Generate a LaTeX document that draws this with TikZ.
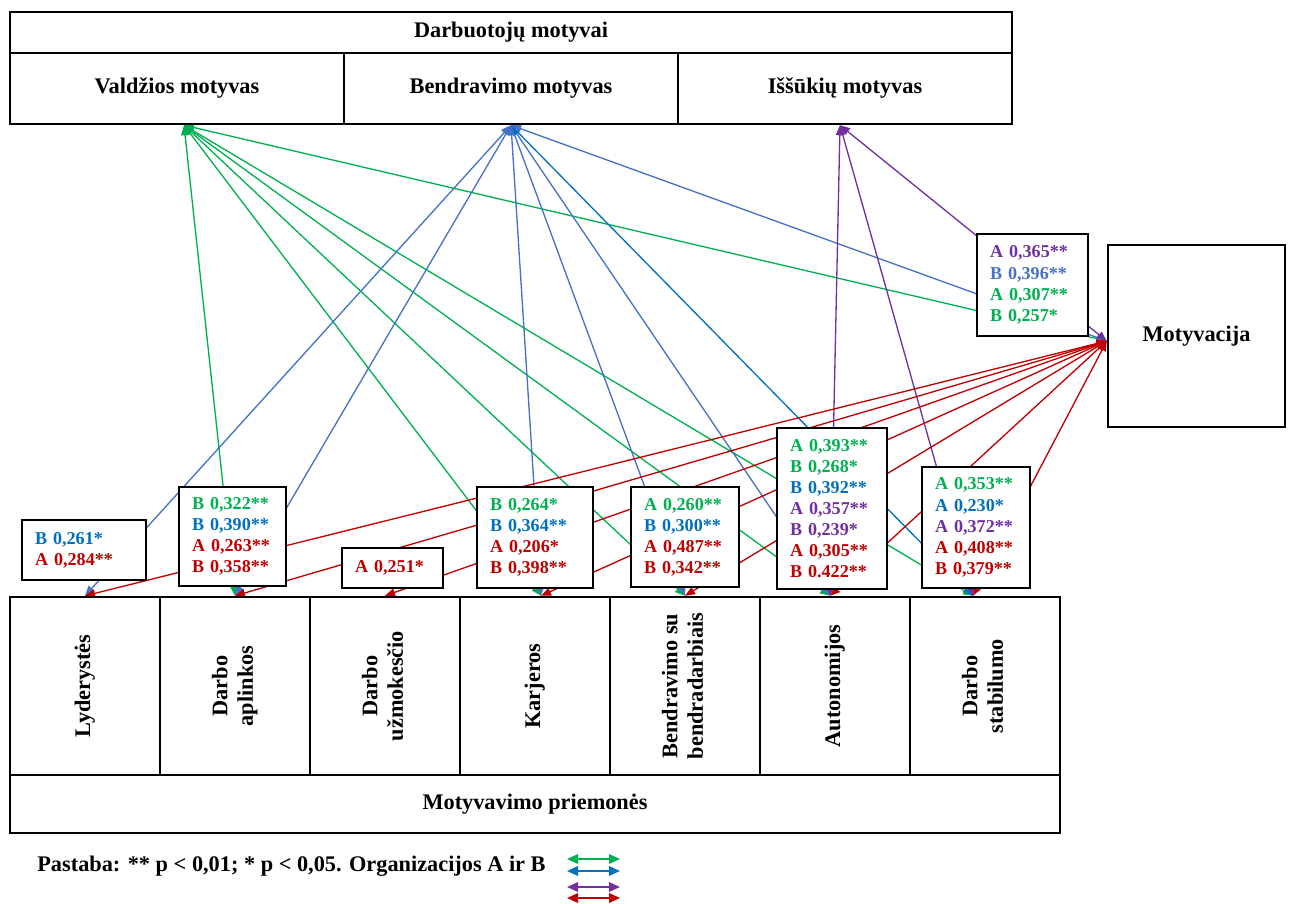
\documentclass[tikz,border=0pt]{standalone}
\usepackage{fontspec}
\setmainfont{Liberation Serif}
\usetikzlibrary{arrows.meta}
\pgfdeclarelayer{bg}
\pgfsetlayers{bg,main}
\definecolor{vgreen}{HTML}{00B050}
\definecolor{vblue}{HTML}{4472C4}
\definecolor{tblue}{HTML}{0070C0}
\definecolor{vpurple}{HTML}{7030A0}
\definecolor{vred}{HTML}{C00000}
\newcommand{\vtext}[1]{\rotatebox{90}{\begin{tabular}{@{}c@{}}#1\end{tabular}}}
\tikzset{
  bar/.style={draw, line width=1.4pt, fill=white, font=\bfseries\fontsize{12.7}{14.6}\selectfont},
  cell/.style={bar, minimum width=3cm, minimum height=3.56cm},
  lab/.style={draw, line width=1pt, fill=white, align=left, inner xsep=0.26cm, inner ysep=0pt,
    font=\bfseries\fontsize{10.3}{12}\selectfont},
  link/.style={line width=0.75pt, {Triangle[length=2mm,width=1.6mm]}-{Triangle[length=2mm,width=1.6mm]}},
  legarrow/.style={line width=1pt, {Triangle[length=2.2mm,width=1.9mm]}-{Triangle[length=2.2mm,width=1.9mm]}},
}

\begin{document}
\begin{tikzpicture}[x=0.02cm, y=-0.02cm]
        \useasboundingbox (0,0) rectangle (1291,903);
        % motyvai
        \node (darb) [bar, minimum width=20.04cm, minimum height=0.82cm] at (511, 32.5) {Darbuotojų motyvai};
        \node (valdz) [bar, minimum width=6.68cm, minimum height=1.42cm] at (177, 88.5) {Valdžios motyvas};
        \node (bendr) [bar, minimum width=6.68cm, minimum height=1.42cm] at (511, 88.5) {Bendravimo motyvas};
        \node (issuk) [bar, minimum width=6.68cm, minimum height=1.42cm] at (845, 88.5) {Iššūkių motyvas};
        \node (mot) [bar, minimum width=3.54cm, minimum height=3.64cm] at (1196.5, 336) {Motyvacija};
        % priemones
        \node (lyd) [cell] at (85, 686) {\vtext{Lyderystės}};
        \node (apl) [cell] at (235, 686) {\vtext{Darbo\\aplinkos}};
        \node (uzm) [cell] at (385, 686) {\vtext{Darbo\\užmokesčio}};
        \node (kar) [cell] at (535, 686) {\vtext{Karjeros}};
        \node (ben) [cell] at (685, 686) {\vtext{Bendravimo su\\bendradarbiais}};
        \node (aut) [cell] at (835, 686) {\vtext{Autonomijos}};
        \node (sta) [cell] at (985, 686) {\vtext{Darbo\\stabilumo}};
        \node (priem) [bar, minimum width=21cm, minimum height=1.16cm] at (535, 804) {Motyvavimo priemonės};
        % koreliacijos
        \node (labLyd) [lab, text width=1.96cm, minimum height=1.2cm] at (84, 550)
                {\textcolor{tblue}{B 0,261*}\\\textcolor{vred}{A 0,284**}};
        \node (labApl) [lab, text width=1.62cm, minimum height=1.98cm] at (232.5, 536.5)
                {\textcolor{vgreen}{B 0,322**}\\\textcolor{tblue}{B 0,390**}\\\textcolor{vred}{A 0,263**}\\\textcolor{vred}{B 0,358**}};
        \node (labUzm) [lab, text width=1.5cm, minimum height=0.8cm] at (392.5, 568)
                {\textcolor{vred}{A 0,251*}};
        \node (labKar) [lab, text width=1.8cm, minimum height=2.02cm] at (535, 537.5)
                {\textcolor{vgreen}{B 0,264*}\\\textcolor{tblue}{B 0,364**}\\\textcolor{vred}{A 0,206*}\\\textcolor{vred}{B 0,398**}};
        \node (labBen) [lab, text width=1.64cm, minimum height=2cm] at (685, 537)
                {\textcolor{vgreen}{A 0,260**}\\\textcolor{tblue}{B 0,300**}\\\textcolor{vred}{A 0,487**}\\\textcolor{vred}{B 0,342**}};
        \node (labAut) [lab, text width=1.68cm, minimum height=3.22cm] at (832, 508.5)
                {\textcolor{vgreen}{A 0,393**}\\\textcolor{vgreen}{B 0,268*}\\\textcolor{tblue}{B 0,392**}\\\textcolor{vpurple}{A 0,357**}\\\textcolor{vpurple}{B 0,239*}\\\textcolor{vred}{A 0,305**}\\\textcolor{vred}{B 0.422**}};
        \node (labSta) [lab, text width=1.64cm, minimum height=2.42cm] at (976, 527.5)
                {\textcolor{vgreen}{A 0,353**}\\\textcolor{tblue}{A 0,230*}\\\textcolor{vpurple}{A 0,372**}\\\textcolor{vred}{A 0,408**}\\\textcolor{vred}{B 0,379**}};
        \node (labMot) [lab, text width=1.7cm, minimum height=2.04cm] at (1032.5, 285)
                {\textcolor{vpurple}{A 0,365**}\\\textcolor{vblue}{B 0,396**}\\\textcolor{vgreen}{A 0,307**}\\\textcolor{vgreen}{B 0,257*}};
        % pastaba
        \node (note) [anchor=west, inner sep=0pt, font=\bfseries\fontsize{12.7}{14.6}\selectfont] at (37, 866)
                {Pastaba: ** p < 0,01; * p < 0,05. Organizacijos A ir B};
        \coordinate (lg1a) at (567, 859); \coordinate (lg1b) at (620, 859);
        \coordinate (lg2a) at (567, 871); \coordinate (lg2b) at (620, 871);
        \coordinate (lg3a) at (567, 887); \coordinate (lg3b) at (620, 887);
        \coordinate (lg4a) at (567, 898); \coordinate (lg4b) at (620, 898);
        \draw [legarrow, vgreen] (lg1a) -- (lg1b);
        \draw [legarrow, tblue] (lg2a) -- (lg2b);
        \draw [legarrow, vpurple] (lg3a) -- (lg3b);
        \draw [legarrow, vred] (lg4a) -- (lg4b);
        \begin{pgfonlayer}{bg}
                % valdzios motyvas
                \draw [link, vgreen] ([xshift=0.14cm]valdz.south) -- (apl.north);
                \draw [link, vgreen] ([xshift=0.14cm]valdz.south) -- ([xshift=0.12cm]kar.north);
                \draw [link, vgreen] ([xshift=0.14cm]valdz.south) -- (ben.north);
                \draw [link, vgreen] ([xshift=0.14cm]valdz.south) -- ([xshift=-0.1cm]aut.north);
                \draw [link, vgreen] ([xshift=0.14cm]valdz.south) -- ([xshift=-0.24cm]sta.north);
                \draw [link, vgreen] ([xshift=0.14cm]valdz.south) -- ([yshift=-0.1cm]mot.west);
                % bendravimo motyvas
                \draw [link, vblue] (bendr.south) -- (lyd.north);
                \draw [link, vblue] (bendr.south) -- (apl.north);
                \draw [link, vblue] (bendr.south) -- ([xshift=0.12cm]kar.north);
                \draw [link, vblue] (bendr.south) -- (ben.north);
                \draw [link, vblue] (bendr.south) -- ([xshift=-0.1cm]aut.north);
                \draw [link, tblue] (bendr.south) -- ([xshift=-0.24cm]sta.north);
                \draw [link, vblue] (bendr.south) -- ([yshift=-0.1cm]mot.west);
                % issukiu motyvas
                \draw [link, vpurple] ([xshift=-0.1cm]issuk.south) -- ([xshift=-0.1cm]aut.north);
                \draw [link, vpurple] ([xshift=-0.1cm]issuk.south) -- ([xshift=-0.24cm]sta.north);
                \draw [link, vpurple] ([xshift=-0.1cm]issuk.south) -- ([yshift=-0.1cm]mot.west);
                % motyvacija
                \draw [link, vred] ([yshift=-0.1cm]mot.west) -- (lyd.north);
                \draw [link, vred] ([yshift=-0.1cm]mot.west) -- (apl.north);
                \draw [link, vred] ([yshift=-0.1cm]mot.west) -- (uzm.north);
                \draw [link, vred] ([yshift=-0.1cm]mot.west) -- ([xshift=0.12cm]kar.north);
                \draw [link, vred] ([yshift=-0.1cm]mot.west) -- (ben.north);
                \draw [link, vred] ([yshift=-0.1cm]mot.west) -- ([xshift=-0.1cm]aut.north);
                \draw [link, vred] ([yshift=-0.1cm]mot.west) -- ([xshift=-0.24cm]sta.north);
        \end{pgfonlayer}
\end{tikzpicture}
\end{document}
